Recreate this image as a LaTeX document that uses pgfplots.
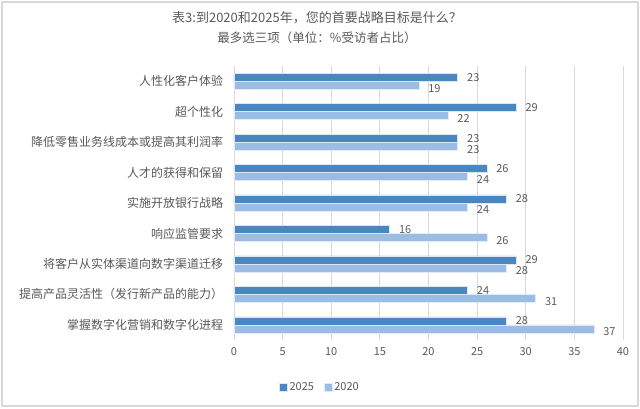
\documentclass[border=0pt]{standalone}
\usepackage{pgfplots}
\pgfplotsset{compat=1.18}
\usepackage{fontspec}
\setmainfont{Noto Sans CJK SC}
\definecolor{dk}{HTML}{4A86C1}
\definecolor{lt}{HTML}{9BBCE4}
\definecolor{txt}{HTML}{595959}
\definecolor{grd}{HTML}{D9D9D9}
\begin{document}
\begin{tikzpicture}
\useasboundingbox (0pt,0pt) rectangle (640pt,409pt);
\fill[white] (0pt,0pt) rectangle (640pt,409pt);
\draw[grd, line width=1.2pt] (2pt,3pt) rectangle (638pt,407pt);
\node[txt, font=\fontsize{13}{15}\selectfont] at (317pt,391pt) {表3:到2020和2025年，您的首要战略目标是什么？};
\node[txt, font=\fontsize{12.5}{15}\selectfont] at (317pt,371pt) {最多选三项（单位：\%受访者占比）};
\begin{axis}[
  at={(234pt,69pt)}, anchor=south west, scale only axis,
  width=389pt, height=274pt,
  xbar=0pt, bar width=8pt,
  xmin=0, xmax=40, ymin=-0.5, ymax=8.5,
  xtick={0,5,...,40},
  ytick={0,...,8},
  yticklabels={掌握数字化营销和数字化进程,提高产品灵活性（发行新产品的能力）,将客户从实体渠道向数字渠道迁移,响应监管要求,实施开放银行战略,人才的获得和保留,降低零售业务线成本或提高其利润率,超个性化,人性化客户体验},
  xmajorgrids, grid style={grd, line width=0.8pt},
  axis line style={draw=none},
  major tick style={draw=none},
  tick label style={txt},
  xticklabel style={font=\fontsize{11}{13}\selectfont, yshift=-4pt},
  yticklabel style={font=\fontsize{12}{14}\selectfont, xshift=-3pt},
  /pgf/number format/assume math mode=true,
  nodes near coords,
  every node near coord/.append style={txt, font=\fontsize{11}{13}\selectfont, xshift=6pt},
  legend style={at={(0.221,-0.1715)}, anchor=center, draw=none, fill=none,
    legend columns=2, font=\fontsize{11}{13}\selectfont, text=txt,
    /tikz/every even column/.append style={column sep=8pt}},
  reverse legend,
  legend image code/.code={\fill[#1] (0pt,-4pt) rectangle (8pt,4pt);},
]
\addplot[fill=lt, draw=white!70!lt, line width=0.4pt, every node near coord/.append style={yshift=-3pt}] coordinates {(37,0) (31,1) (28,2) (26,3) (24,4) (24,5) (23,6) (22,7) (19,8)};
\addplot[fill=dk, draw=white!80!dk, line width=0.4pt] coordinates {(28,0) (24,1) (29,2) (16,3) (28,4) (26,5) (23,6) (29,7) (23,8)};
\legend{2020,2025}
\end{axis}
\end{tikzpicture}
\end{document}
